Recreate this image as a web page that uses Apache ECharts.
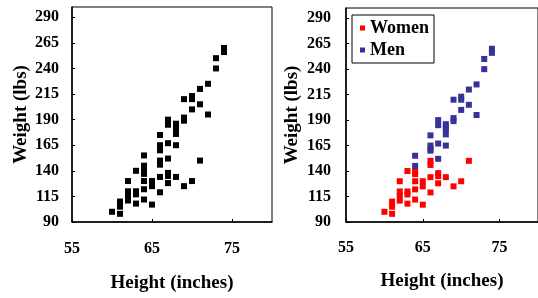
<!DOCTYPE html>
<html>
<head>
<meta charset="utf-8">
<script src="https://cdn.jsdelivr.net/npm/echarts@6/dist/echarts.min.js"></script>
<style>
  html, body { margin: 0; padding: 0; background: #fff; }
  #chart { width: 538px; height: 298px; }
</style>
</head>
<body>
<div id="chart"></div>
<script>
// 身高/体重散点：左图全部黑点，右图按性别分色
const womenHeight = [60, 61, 61, 61, 62, 62, 62, 62, 63, 63, 63, 63, 64, 64, 64, 64, 64,
  65, 65, 65, 66, 66, 66, 66, 66, 67, 67, 67, 68, 69, 70, 71];
const womenWeight = [100, 110, 105, 98, 130, 120, 116, 111, 140, 120, 117, 108, 140, 137, 130, 122, 112,
  130, 125, 107, 150, 146, 162, 134, 119, 138, 135, 128, 134, 125, 130, 150];
const menHeight = [64, 64, 66, 66, 66, 67, 67, 67, 67, 68, 68, 68, 68, 68,
  69, 69, 69, 70, 70, 70, 71, 71, 72, 72, 73, 73, 74, 74];
const menWeight = [155, 145, 175, 165, 160, 190, 185, 167, 152, 186, 183, 181, 176, 165,
  210, 192, 189, 213, 210, 200, 220, 205, 225, 195, 250, 240, 260, 256];

const X_TICKS = { min: 55, max: 80, interval: 10 };
const Y_TICKS = { min: 90, max: 300, interval: 25 };

const FONT = '"Liberation Serif", "Times New Roman", serif';
const INK = '#000';

const pairs = (xs, ys) => xs.map((x, i) => [x, ys[i]]);

function xAxisOpt(gridIndex, margin, gap) {
  return {
    gridIndex, type: 'value', ...X_TICKS,
    name: 'Height (inches)', nameLocation: 'middle', nameGap: gap,
    nameTextStyle: { fontFamily: FONT, fontWeight: 'bold', fontSize: 19, color: INK },
    axisLine: { lineStyle: { color: INK, width: 1.5 } },
    axisTick: { inside: true, length: 3, lineStyle: { color: INK } },
    axisLabel: { showMaxLabel: false, margin, fontFamily: FONT, fontWeight: 'bold', fontSize: 16, color: INK },
    splitLine: { show: false },
  };
}

function yAxisOpt(gridIndex, margin, gap) {
  return {
    gridIndex, type: 'value', ...Y_TICKS,
    name: 'Weight (lbs)', nameLocation: 'middle', nameGap: gap,
    nameTextStyle: { fontFamily: FONT, fontWeight: 'bold', fontSize: 19, color: INK },
    axisLine: { lineStyle: { color: INK, width: 1.5 } },
    axisTick: { inside: true, length: 3, lineStyle: { color: INK } },
    axisLabel: { showMaxLabel: false, margin, fontFamily: FONT, fontWeight: 'bold', fontSize: 16, color: INK },
    splitLine: { show: false },
  };
}

const chart = echarts.init(document.getElementById('chart'), null, { renderer: 'canvas' });
chart.setOption({
  animation: false,
  grid: [
    { left: 72, top: 7, width: 200, height: 218.5, show: true, borderColor: INK, borderWidth: 1 },
    { left: 346, top: 8, width: 195, height: 214, show: true, borderColor: INK, borderWidth: 1 },
  ],
  xAxis: [xAxisOpt(0, 19, 52), xAxisOpt(1, 18, 50)],
  yAxis: [yAxisOpt(0, 13, 41), yAxisOpt(1, 15, 44)],
  legend: {
    orient: 'vertical', left: 352, top: 15,
    data: ['Women', 'Men'],
    icon: 'rect', itemWidth: 5, itemHeight: 5, itemGap: 4,
    padding: [4, 5, 4, 8],
    backgroundColor: '#fff', borderColor: INK, borderWidth: 1, borderRadius: 0,
    textStyle: { fontFamily: FONT, fontWeight: 'bold', fontSize: 18, color: INK },
  },
  series: [
    {
      name: 'All', type: 'scatter', xAxisIndex: 0, yAxisIndex: 0,
      symbol: 'rect', symbolSize: 6, itemStyle: { color: '#000', opacity: 1 },
      data: pairs(womenHeight, womenWeight).concat(pairs(menHeight, menWeight)),
    },
    {
      name: 'Women', type: 'scatter', xAxisIndex: 1, yAxisIndex: 1,
      symbol: 'rect', symbolSize: 6, itemStyle: { color: '#ff0000', opacity: 1 },
      data: pairs(womenHeight, womenWeight),
    },
    {
      name: 'Men', type: 'scatter', xAxisIndex: 1, yAxisIndex: 1,
      symbol: 'rect', symbolSize: 6, itemStyle: { color: '#333399', opacity: 1 },
      data: pairs(menHeight, menWeight),
    },
  ],
});
</script>
</body>
</html>
